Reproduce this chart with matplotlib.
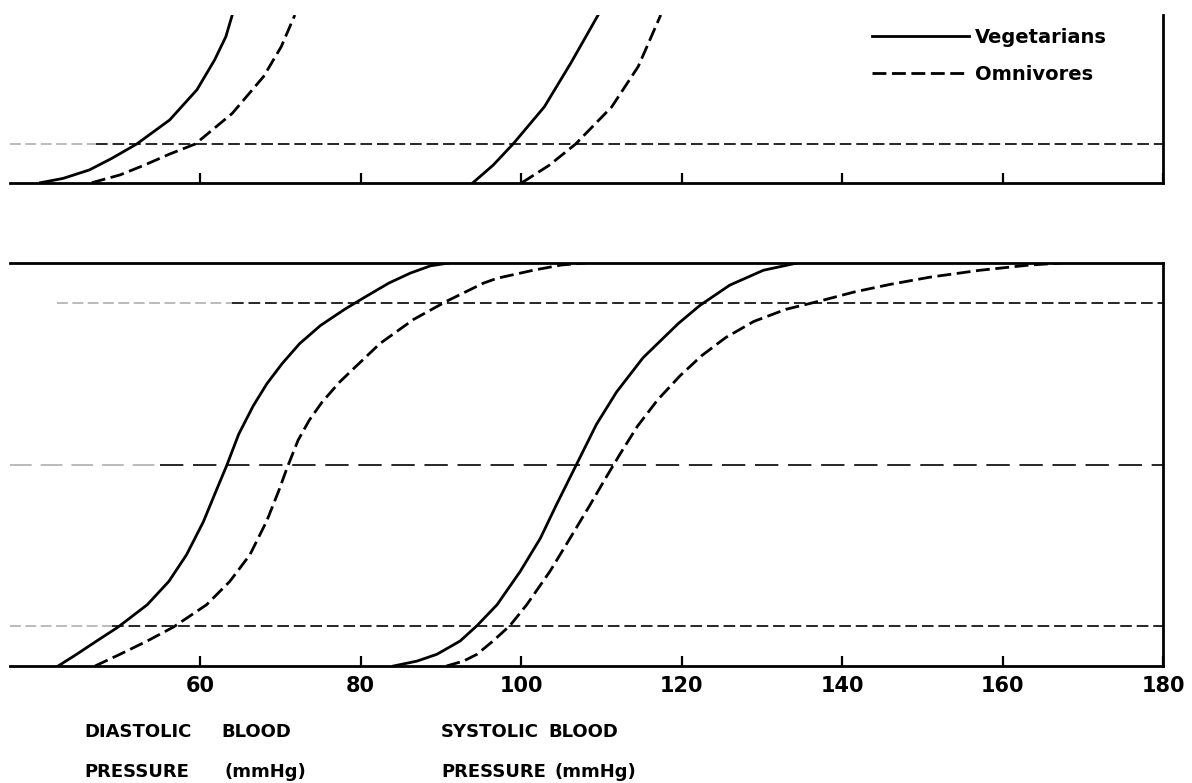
import matplotlib
matplotlib.use("Agg")
import matplotlib.pyplot as plt

plt.rcParams["font.family"] = ["DejaVu Sans"]
plt.rcParams["font.weight"] = "bold"

# ── data (blood pressure, cumulative fraction) ──────────────────────────────
# lower panel: full cumulative curves
DIA_VEG_X = [42.3, 44.6, 47.1, 49.8, 53.4, 56.1, 58.3, 60.4, 62.1, 63.3, 64.8, 66.6, 68.3, 70.2, 72.4, 75.0, 78.0, 80.5, 83.5, 86.2, 88.7, 91.0]
DIA_VEG_Y = [0.0, 0.029, 0.062, 0.097, 0.152, 0.21, 0.276, 0.358, 0.44, 0.497, 0.575, 0.645, 0.70, 0.75, 0.80, 0.845, 0.885, 0.915, 0.95, 0.975, 0.993, 1.0]

DIA_OMN_X = [46.9, 50.0, 53.4, 56.7, 60.8, 63.7, 66.2, 68.3, 69.8, 70.8, 72.2, 73.6, 75.2, 77.4, 79.5, 82.4, 86.6, 90.7, 95.3, 97.0, 101.5, 105.0, 108.0]
DIA_OMN_Y = [0.0, 0.029, 0.062, 0.097, 0.152, 0.21, 0.276, 0.36, 0.435, 0.49, 0.56, 0.61, 0.655, 0.705, 0.745, 0.80, 0.86, 0.905, 0.95, 0.962, 0.982, 0.995, 1.0]

SYS_VEG_X = [84.1, 87.0, 89.5, 92.4, 94.5, 97.0, 99.9, 102.4, 104.4, 106.9, 109.4, 111.9, 115.2, 119.6, 122.3, 126.0, 130.2, 134.4]
SYS_VEG_Y = [0.0, 0.012, 0.029, 0.062, 0.10, 0.152, 0.235, 0.317, 0.40, 0.50, 0.60, 0.68, 0.765, 0.85, 0.895, 0.945, 0.982, 1.0]

SYS_OMN_X = [90.7, 92.8, 94.5, 96.5, 98.6, 100.7, 103.6, 106.1, 108.6, 110.5, 112.3, 114.5, 117.0, 119.8, 122.5, 125.5, 129.0, 133.0, 137.3, 141.5, 146.0, 151.0, 157.2, 163.4, 167.5]
SYS_OMN_Y = [0.0, 0.012, 0.029, 0.062, 0.10, 0.152, 0.235, 0.317, 0.40, 0.465, 0.525, 0.595, 0.66, 0.72, 0.77, 0.815, 0.855, 0.885, 0.906, 0.928, 0.947, 0.965, 0.982, 0.995, 1.0]

# upper panel: lower tail, cut off at the top
T_DIA_VEG_X = [40.1, 42.9, 46.2, 49.0, 52.1, 56.2, 59.6, 61.8, 63.2, 64.0]
T_DIA_VEG_Y = [0.0, 0.011, 0.033, 0.063, 0.10, 0.162, 0.24, 0.317, 0.377, 0.433]

T_DIA_OMN_X = [46.5, 50.0, 53.0, 56.2, 59.4, 64.0, 67.9, 70.1, 71.8]
T_DIA_OMN_Y = [0.0, 0.02, 0.045, 0.074, 0.10, 0.179, 0.274, 0.351, 0.433]

T_SYS_VEG_X = [94.0, 96.5, 99.0, 102.9, 106.2, 109.6]
T_SYS_VEG_Y = [0.0, 0.045, 0.10, 0.196, 0.309, 0.433]

T_SYS_OMN_X = [100.1, 103.5, 106.8, 111.3, 114.6, 117.4]
T_SYS_OMN_Y = [0.0, 0.045, 0.10, 0.196, 0.30, 0.433]

LOWER_LEVELS = [0.1, 0.5, 0.9]
UPPER_LEVELS = [0.1]
X_TICKS = [60, 80, 100, 120, 140, 160, 180]
X_TICK_LABELS = ["60", "80", "100", "120", "140", "160", "180"]

W, H = 1192, 783
XMIN, XMAX = 36.3, 180
LW = 2.0
DASH = (5, 2)


def fx(px):
    return px / W


def fy(py):
    return 1 - py / H


fig = plt.figure(figsize=(W / 100, H / 100), dpi=100)
fig.patch.set_facecolor("white")

ax_top = fig.add_axes([fx(10), fy(182.7), fx(1163) - fx(10), fy(15) - fy(182.7)])
ax_bot = fig.add_axes([fx(10), fy(666), fx(1163) - fx(10), fy(263) - fy(666)])

for ax in (ax_top, ax_bot):
    ax.set_xlim(XMIN, XMAX)
    ax.set_xticks(X_TICKS)
    ax.tick_params(axis="x", direction="in", length=7.5, width=1.6, colors="black")
    ax.tick_params(axis="y", left=False, labelleft=False)
    for s in ax.spines.values():
        s.set_linewidth(2.0)
    ax.spines["left"].set_visible(False)


def ref_line(ax, level, x0, fade_to, dashes):
    # scanned reference lines: faint on the left, darker further right
    ax.hlines(level, x0, fade_to, color="#b5b5b5", lw=1.3, linestyles=[(0, dashes)], zorder=1)
    ax.hlines(level, fade_to, XMAX, color="#262626", lw=1.4, linestyles=[(0, dashes)], zorder=1)


# ── upper panel ──────────────────────────────────────────────────────────────
ax_top.set_ylim(0, 0.433)
ax_top.spines["top"].set_visible(False)
ax_top.set_xticklabels([])

ref_line(ax_top, UPPER_LEVELS[0], XMIN, 47, (6, 2.5))

veg_line, = ax_top.plot(T_DIA_VEG_X, T_DIA_VEG_Y, color="black", lw=LW, label="Vegetarians")
omn_line, = ax_top.plot(T_DIA_OMN_X, T_DIA_OMN_Y, color="black", lw=LW, dashes=DASH, label="Omnivores")
ax_top.plot(T_SYS_VEG_X, T_SYS_VEG_Y, color="black", lw=LW)
ax_top.plot(T_SYS_OMN_X, T_SYS_OMN_Y, color="black", lw=LW, dashes=DASH)

fig.legend(handles=[veg_line, omn_line], loc="center left",
           bbox_to_anchor=(fx(872), fy(56)), bbox_transform=fig.transFigure,
           frameon=False, handlelength=5.0, handletextpad=0.3,
           labelspacing=0.95, borderpad=0, borderaxespad=0,
           prop={"weight": "bold", "size": 14})

# ── lower panel ──────────────────────────────────────────────────────────────
ax_bot.set_ylim(0, 1.0)
ax_bot.set_xticklabels(X_TICK_LABELS, fontsize=15, fontweight="bold")
ax_bot.tick_params(axis="x", pad=7)

ref_line(ax_bot, LOWER_LEVELS[0], XMIN, 49, (6, 2.5))
ref_line(ax_bot, LOWER_LEVELS[1], XMIN, 55, (12, 5))
ref_line(ax_bot, LOWER_LEVELS[2], 42.2, 64, (6, 2.5))

ax_bot.plot(DIA_VEG_X, DIA_VEG_Y, color="black", lw=LW)
ax_bot.plot(DIA_OMN_X, DIA_OMN_Y, color="black", lw=LW, dashes=DASH)
ax_bot.plot(SYS_VEG_X, SYS_VEG_Y, color="black", lw=LW)
ax_bot.plot(SYS_OMN_X, SYS_OMN_Y, color="black", lw=LW, dashes=DASH)

# axis captions under the ticks
cap = dict(fontsize=13, fontweight="bold", va="center", ha="left")
fig.text(fx(84), fy(732), "DIASTOLIC", **cap)
fig.text(fx(221), fy(732), "BLOOD", **cap)
fig.text(fx(84), fy(772), "PRESSURE", **cap)
fig.text(fx(224), fy(772), "(mmHg)", **cap)
fig.text(fx(441), fy(732), "SYSTOLIC", **cap)
fig.text(fx(548), fy(732), "BLOOD", **cap)
fig.text(fx(441), fy(772), "PRESSURE", **cap)
fig.text(fx(554), fy(772), "(mmHg)", **cap)

fig.savefig("out.png", dpi=100, facecolor="white")
